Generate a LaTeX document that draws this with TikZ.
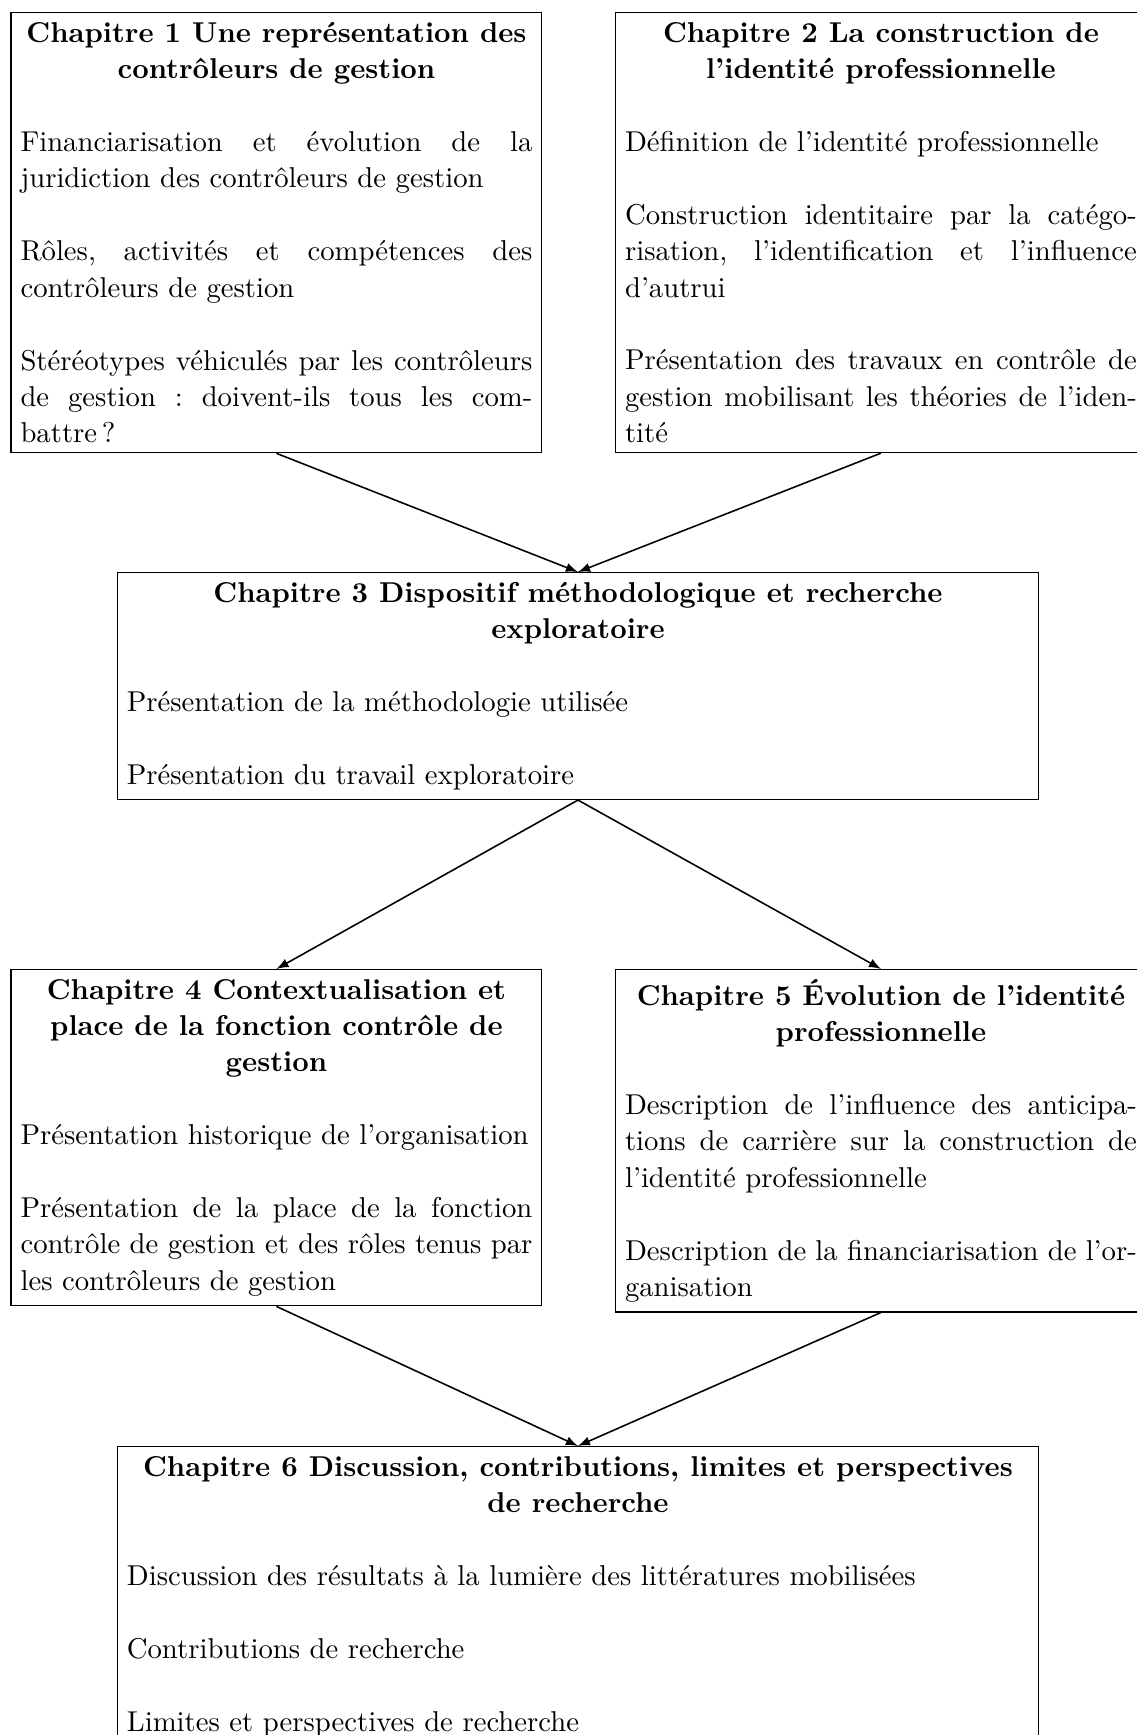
\documentclass[11pt,tikz,border=0pt]{standalone}
\usepackage{fontspec}

\newcommand{\chaptitle}[1]{{\centering\bfseries #1\par}}

\begin{document}
\begin{tikzpicture}[
    chapbox/.style={draw, anchor=north, align=justify, inner sep=0.3333em,
      font={\fontsize{10.95pt}{13.9pt}\selectfont},
      execute at begin node={\setlength{\parskip}{\baselineskip}\frenchspacing\lefthyphenmin=64 }},
    smallbox/.style={chapbox, text width=6.865cm},
    widebox/.style={chapbox, text width=12.1cm},
    link/.style={-latex, semithick}
  ]
    \useasboundingbox (0,0) rectangle (15.25,-23.271);

    % Chapters 1 and 2
    \node[smallbox] (ch1) at (3.708,-0.161) {\chaptitle{Chapitre 1 Une représentation des contrôleurs de gestion}
      Financiarisation et évolution de la juridiction des contrôleurs de gestion

      Rôles, activités et compétences des contrôleurs de gestion

      Stéréotypes véhiculés par les contrôleurs de gestion~: doivent-ils tous les com\-battre\,?};
    \node[smallbox] (ch2) at (11.816,-0.161) {\chaptitle{Chapitre 2 La construction de l'identité professionnelle}
      Définition de l'identité professionnelle

      Construction identitaire par la catégo\-risation, l'identification et l'influence d'autrui

      Présentation des travaux en contrôle de gestion mobilisant les théories de l'iden\-tité};

    % Chapter 3
    \node[widebox] (ch3) at (7.752,-7.672) {\chaptitle{Chapitre 3 Dispositif méthodologique et recherche exploratoire}
      Présentation de la méthodologie utilisée

      Présentation du travail exploratoire};

    % Chapters 4 and 5
    \node[smallbox] (ch4) at (3.708,-12.996) {\chaptitle{Chapitre 4 Contextualisation et place de la fonction contrôle de gestion}
      Présentation historique de l'organisation

      Présentation de la place de la fonction contrôle de gestion et des rôles tenus par les contrôleurs de gestion};
    \node[smallbox] (ch5) at (11.816,-12.996) {\chaptitle{Chapitre 5 Évolution de l'identité professionnelle}
      Description de l'influence des anticipa\-tions de carrière sur la construction de l'identité professionnelle

      Description de la financiarisation de l'or\-ganisation};

    % Chapter 6
    \node[widebox] (ch6) at (7.752,-19.394) {\chaptitle{Chapitre 6 Discussion, contributions, limites et perspectives de recherche}
      Discussion des résultats à la lumière des littératures mobilisées

      Contributions de recherche

      Limites et perspectives de recherche};

    % Arrows
    \draw[link] (ch1.south) -- (ch3.north);
    \draw[link] (ch2.south) -- (ch3.north);
    \draw[link] (ch3.south) -- (ch4.north);
    \draw[link] (ch3.south) -- (ch5.north);
    \draw[link] (ch4.south) -- (ch6.north);
    \draw[link] (ch5.south) -- (ch6.north);

\end{tikzpicture}
\end{document}
